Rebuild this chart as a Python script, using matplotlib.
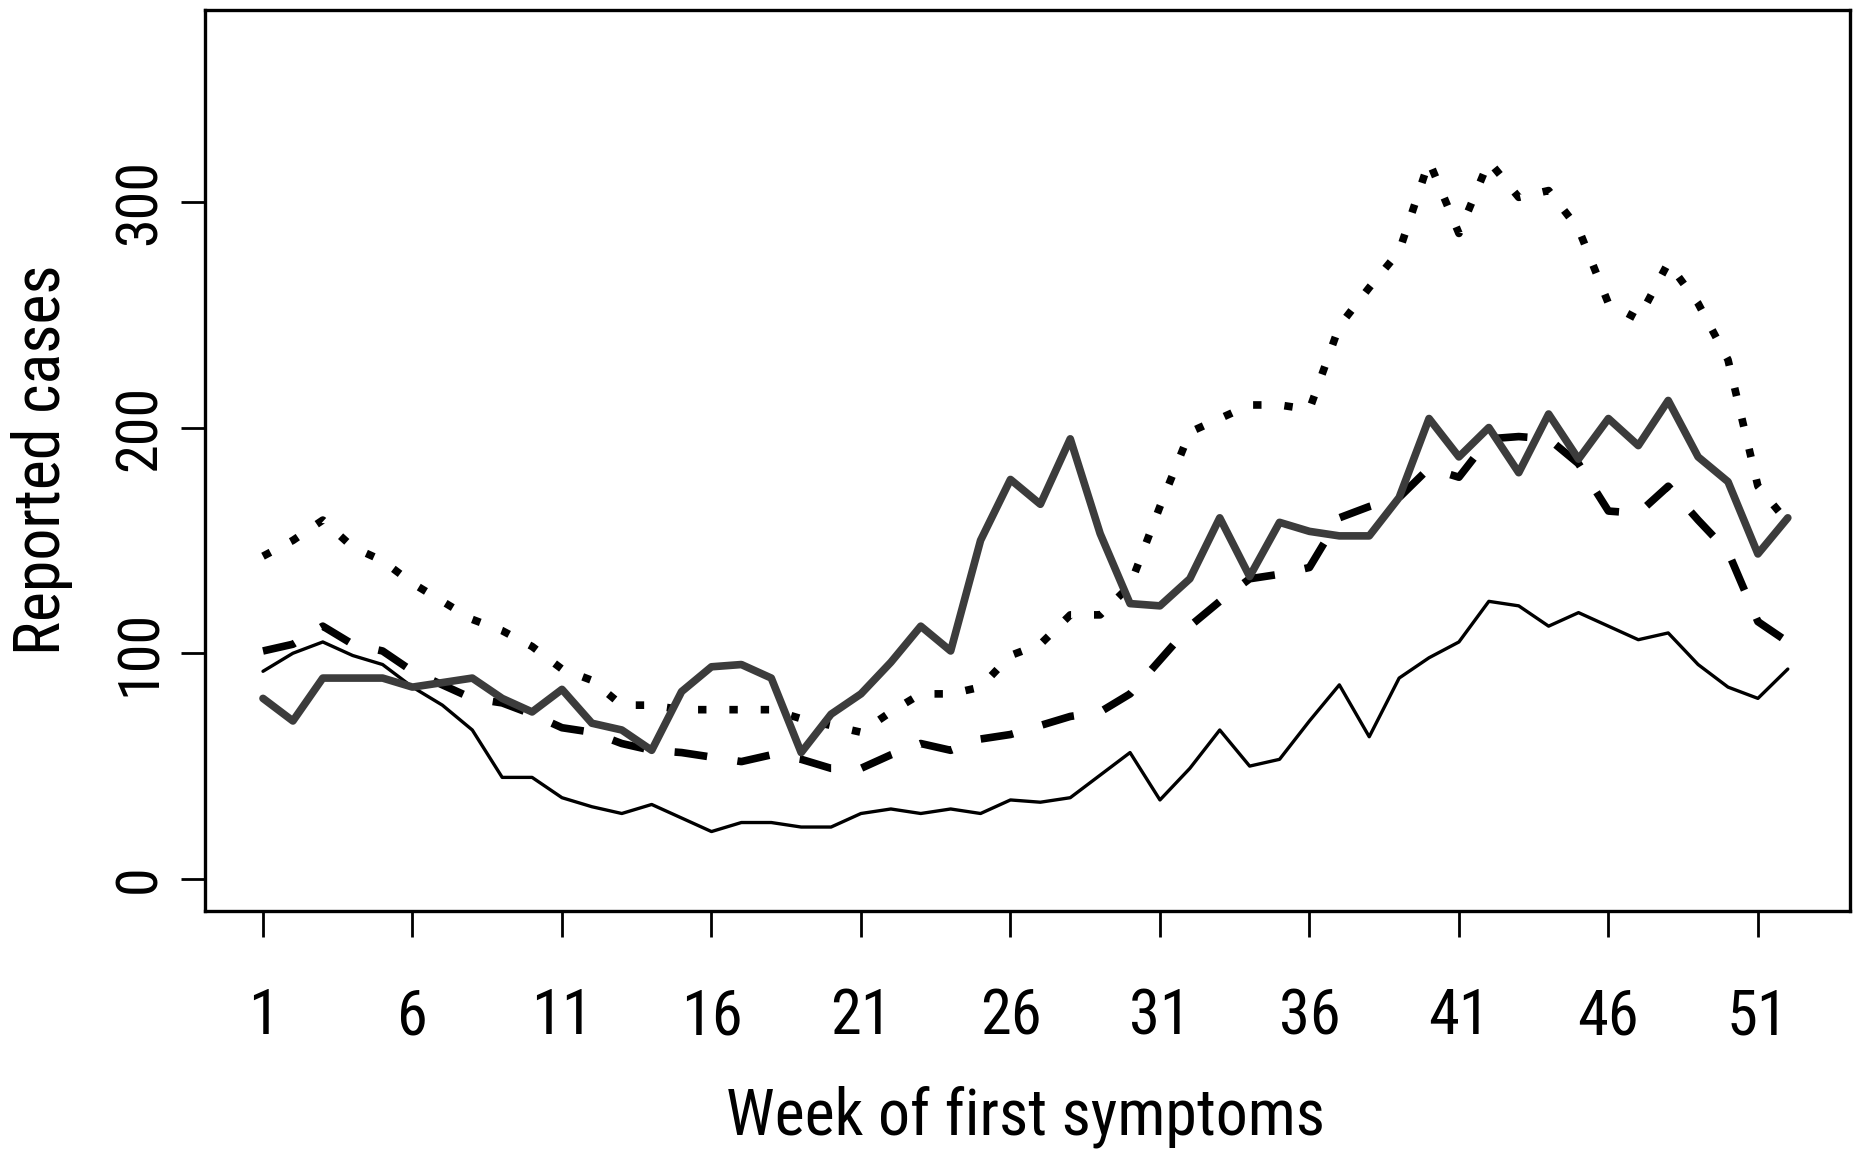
import os
import matplotlib
matplotlib.use("Agg")
import matplotlib.pyplot as plt
from matplotlib import font_manager as fm

# ---------------- data ----------------
weeks = list(range(1, 53))

thin_solid = [92, 100, 105, 99, 95, 85, 77, 66, 45, 45,
              36, 32, 29, 33, 27, 21, 25, 25, 23, 23,
              29, 31, 29, 31, 29, 35, 34, 36, 46, 56,
              35, 49, 66, 50, 53, 70, 86, 63, 89, 98,
              105, 123, 121, 112, 118, 112, 106, 109, 95, 85,
              80, 93]

thick_solid = [80, 70, 89, 89, 89, 85, 87, 89, 80, 74,
               84, 69, 66, 57, 83, 94, 95, 89, 56, 73,
               82, 96, 112, 101, 150, 177, 166, 195, 153, 122,
               121, 133, 160, 134, 158, 154, 152, 152, 169, 204,
               187, 200, 180, 206, 186, 204, 192, 212, 187, 176,
               144, 160]

dashed = [101, 104, 112, 104, 101, 92, 86, 80, 78, 73,
          67, 65, 60, 57, 56, 54, 52, 55, 53, 49,
          49, 55, 60, 57, 62, 64, 68, 72, 74, 82,
          97, 112, 123, 133, 135, 138, 160, 165, 169, 182,
          178, 195, 196, 195, 184, 163, 162, 174, 159, 145,
          114, 105]

dotted = [143, 150, 159, 147, 141, 131, 123, 115, 110, 103,
          93, 88, 77, 77, 75, 75, 75, 75, 71, 68,
          65, 74, 82, 82, 85, 99, 104, 117, 117, 130,
          165, 198, 204, 210, 210, 208, 245, 262, 278, 318,
          286, 318, 302, 305, 288, 255, 248, 273, 255, 230,
          174, 158]

x_ticks = [1, 6, 11, 16, 21, 26, 31, 36, 41, 46, 51]
y_ticks = [0, 100, 200, 300]
x_label = "Week of first symptoms"
y_label = "Reported cases"

# ---------------- font: prefer a condensed sans ----------------
prefs = ["NotoSans-ExtraCondensed.ttf", "LiberationSansNarrow-Regular.ttf",
         "NotoSans-Condensed.ttf", "RobotoCondensed-Regular.ttf",
         "DejaVuSansCondensed.ttf"]
paths = {os.path.basename(f.fname): f.fname for f in fm.fontManager.ttflist}
font_path = next((paths[p] for p in prefs if p in paths), None)
if font_path is not None:
    fp = fm.FontProperties(fname=font_path)
    scale = 1.0
else:
    fp = fm.FontProperties(family=["Liberation Sans", "DejaVu Sans"])
    scale = 0.7

tick_size = 45 * scale
xlab_size = 46 * scale
ylab_size = 46 * scale

# ---------------- figure ----------------
W, H = 1860, 1151
fig = plt.figure(figsize=(W / 100, H / 100), dpi=100)
ax = fig.add_axes([205 / W, 1 - 911 / H, (1850 - 205) / W, (911 - 10) / H])

ax.plot(weeks, thin_solid, color="black", lw=2.4,
        solid_joinstyle="round", solid_capstyle="round", zorder=2)
ax.plot(weeks, dashed, color="black", lw=5.5,
        linestyle=(0, (4.3, 4.0)), dash_capstyle="butt", zorder=3)
ax.plot(weeks, dotted, color="black", lw=5.5,
        linestyle=(0, (1.1, 3.0)), dash_capstyle="butt", zorder=3)
ax.plot(weeks, thick_solid, color="#3c3c3c", lw=5.5,
        solid_joinstyle="round", solid_capstyle="round", zorder=4)

ax.set_xlim(-0.94, 54.08)
ax.set_ylim(-14.2, 385)

for s in ax.spines.values():
    s.set_linewidth(2.4)
    s.set_color("black")

ax.set_xticks(x_ticks)
ax.set_xticklabels([str(t) for t in x_ticks], fontproperties=fp)
ax.set_yticks(y_ticks)
ax.set_yticklabels([str(t) for t in y_ticks], fontproperties=fp)

ax.tick_params(axis="x", direction="out", length=19, width=2.0, pad=36,
               labelsize=tick_size)
ax.tick_params(axis="y", direction="out", length=17, width=2.0, pad=10,
               labelsize=tick_size * 0.93)
for lbl in ax.get_xticklabels():
    lbl.set_fontproperties(fp)
    lbl.set_fontsize(tick_size)
for lbl in ax.get_yticklabels():
    lbl.set_fontproperties(fp)
    lbl.set_fontsize(tick_size * 0.93)
    lbl.set_rotation(90)
    lbl.set_va("center")
    lbl.set_ha("right")

fp_x = fp.copy()
fp_x.set_size(xlab_size)
fig.text(1025 / W, (H - 1135) / H, x_label, fontproperties=fp_x,
         ha="center", va="baseline")
fp_y = fp.copy()
fp_y.set_size(ylab_size)
fig.text(60 / W, 1 - 460 / H, y_label, fontproperties=fp_y, rotation=90,
         rotation_mode="anchor", ha="center", va="baseline")

fig.savefig("out.png", dpi=100, facecolor="white")
